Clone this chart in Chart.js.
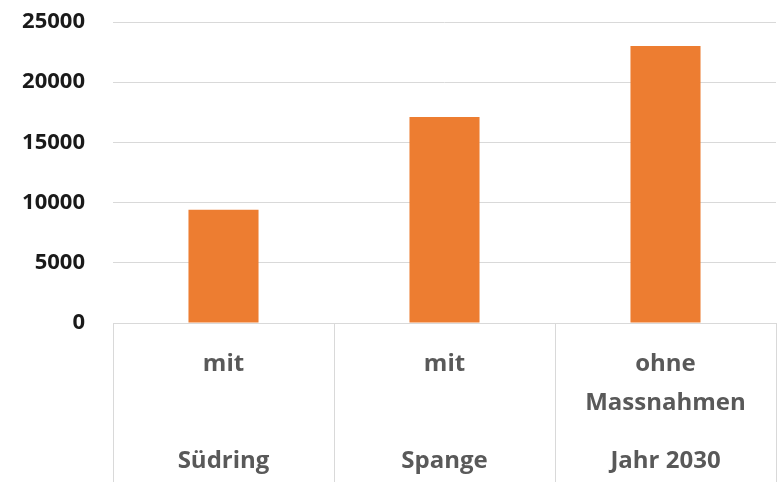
<!DOCTYPE html>
<html>
<head>
<meta charset="utf-8">
<script src="https://cdn.jsdelivr.net/npm/chart.js@4/dist/chart.umd.min.js"></script>
<style>
	body { margin: 0; background: #fff; }
	#wrap { width: 779px; height: 489px; position: relative; }
</style>
</head>
<body>
<div id="wrap"><canvas id="verkehrChart"></canvas></div>
<script>
	// Fahrzeuge pro Tag, Jahr 2030
	const variante = [['mit'], ['mit'], ['ohne', 'Massnahmen']];
	const gruppe = ['Südring', 'Spange', 'Jahr 2030'];
	const werte = [9400, 17100, 23000];
	const yMax = 25000;
	const yStep = 5000;

	// Each axis label: variant text on top, group name at the bottom.
	// Rows: 0 = first variant line, 2 = second variant line, 5 = group name
	function buildLabel(i) {
		const rows = ['', '', '', '', '', ''];
		rows[0] = variante[i][0];
		if(variante[i].length > 1) {
			rows[2] = variante[i][1];
		}
		rows[5] = gruppe[i];
		return rows;
	}
	const labels = gruppe.map(function(g, i) { return buildLabel(i); });

	const gridColor = '#d9d9d9';

	new Chart(document.getElementById('verkehrChart'), {
		type: 'bar',
		data: {
			labels: labels,
			datasets: [{
				data: werte,
				backgroundColor: '#ed7d31',
				borderWidth: 0,
				categoryPercentage: 1,
				barPercentage: 0.317
			}]
		},
		options: {
			responsive: true,
			maintainAspectRatio: false,
			animation: false,
			layout: {
				padding: { top: 22, right: 3, bottom: 0, left: 0 }
			},
			plugins: {
				legend: { display: false },
				tooltip: { enabled: false }
			},
			scales: {
				x: {
					offset: true,
					border: { display: true, color: gridColor, width: 1 },
					grid: {
						offset: true,
						drawOnChartArea: false,
						drawTicks: true,
						tickLength: 159,
						color: gridColor,
						lineWidth: 1
					},
					ticks: {
						autoSkip: false,
						maxRotation: 0,
						minRotation: 0,
						padding: -128,
						color: '#595959',
						font: { family: 'Open Sans', size: 24, weight: 'bold', lineHeight: 0.8125 }
					},
					afterFit: function(scale) { scale.height = 166; }
				},
				y: {
					min: 0,
					max: yMax,
					border: { display: false },
					grid: {
						color: gridColor,
						lineWidth: 1,
						drawTicks: false
					},
					ticks: {
						stepSize: yStep,
						padding: 28,
						color: '#1a1a1a',
						font: { family: 'Open Sans', size: 22, weight: 'bold' },
						// plain numbers, no thousands separator
						callback: function(value) { return String(value); }
					},
					afterFit: function(scale) {
						scale.width = 113;
						// the label gap should not push the plot area down
						scale.paddingTop = 0;
						scale.paddingBottom = 0;
					}
				}
			}
		}
	});
</script>
</body>
</html>
